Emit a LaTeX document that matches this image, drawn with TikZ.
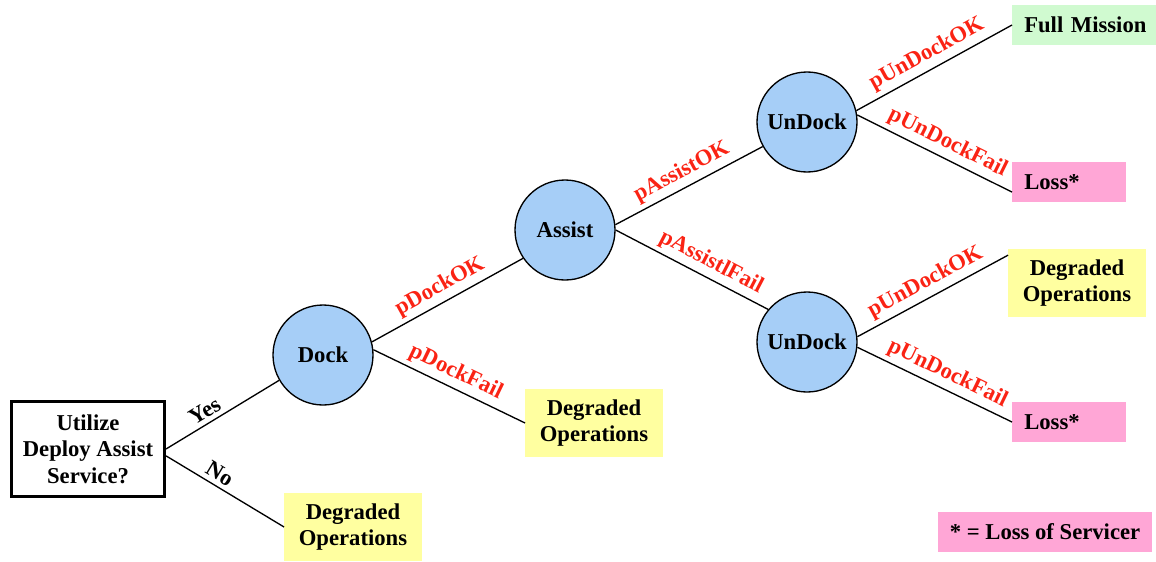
\documentclass[tikz,border=0pt]{standalone}
\usepackage{fontspec}
\setmainfont{Liberation Serif}

\definecolor{eventblue}{RGB}{166,206,247}
\definecolor{degyellow}{RGB}{255,255,160}
\definecolor{fullgreen}{RGB}{208,250,208}
\definecolor{losspink}{RGB}{255,166,214}
\definecolor{probred}{RGB}{250,35,20}

\begin{document}
\begin{tikzpicture}[x=0.75pt, y=-0.75pt,
        every node/.style={font=\fontsize{17}{20}\selectfont\bfseries},
        event/.style={circle, draw, line width=1pt, fill=eventblue, minimum size=75pt, inner sep=0pt},
        outcome/.style={fill=degyellow, align=center, minimum width=103pt, minimum height=51pt, inner sep=0pt},
        endbox/.style={anchor=west, inner xsep=9pt, inner ysep=0pt, minimum height=30pt, align=left},
        prob/.style={midway, above, sloped, text=probred},
        branch/.style={line width=1pt}]
        \useasboundingbox (0,0) rectangle (1156,561);

        % start and chance nodes
        \node[draw, line width=2.25pt, minimum width=114.75pt, minimum height=71.25pt, align=center]
            (root) at (88,449) {Utilize\\Deploy Assist\\Service?};
        \node[event] (dock) at (323,355) {Dock};
        \node[event] (assist) at (565,230) {Assist};
        \node[event] (undockA) at (807,122) {UnDock};
        \node[event] (undockB) at (807,342) {UnDock};

        % end states
        \node[outcome] (degNo) at (353,527) {Degraded\\Operations};
        \node[outcome] (degDock) at (594,423) {Degraded\\Operations};
        \node[outcome] (degAssist) at (1077,283) {Degraded\\Operations};
        \node[endbox, fill=fullgreen, text width=96pt] (full) at (1012,25) {Full Mission};
        \node[endbox, fill=losspink, text width=67.5pt] (lossA) at (1012,182) {Loss*};
        \node[endbox, fill=losspink, text width=67.5pt] (lossB) at (1012,422) {Loss*};
        \node[fill=losspink, minimum width=160.5pt, minimum height=30pt, inner sep=0pt]
            (legend) at (1045,532) {* = Loss of Servicer};

        % branches
        \draw[branch] (root.east) -- node[pos=0.4, above, sloped] {Yes} (dock.210);
        \draw[branch] (root.-5) -- node[pos=0.4, above, sloped] {No} (degNo.west);
        \draw[branch] (dock.15) -- node[prob] {pDockOK} (assist.214);
        \draw[branch] (dock.6) -- node[prob] {pDockFail} (degDock.west);
        \draw[branch] (assist.6) -- node[prob] {pAssistOK} (undockA.209);
        \draw[branch] (assist.0) -- node[prob, pos=0.58] {pAssistlFail} (undockB.140);
        \draw[branch] (undockA.13) -- node[prob] {pUnDockOK} (full.west);
        \draw[branch] (undockA.8) -- node[prob, pos=0.54] {pUnDockFail} (lossA.190);
        \draw[branch] (undockB.6) -- node[prob] {pUnDockOK} (degAssist.158);
        \draw[branch] (undockB.-6) -- node[prob, pos=0.54] {pUnDockFail} (lossB.west);

    \end{tikzpicture}
\end{document}
